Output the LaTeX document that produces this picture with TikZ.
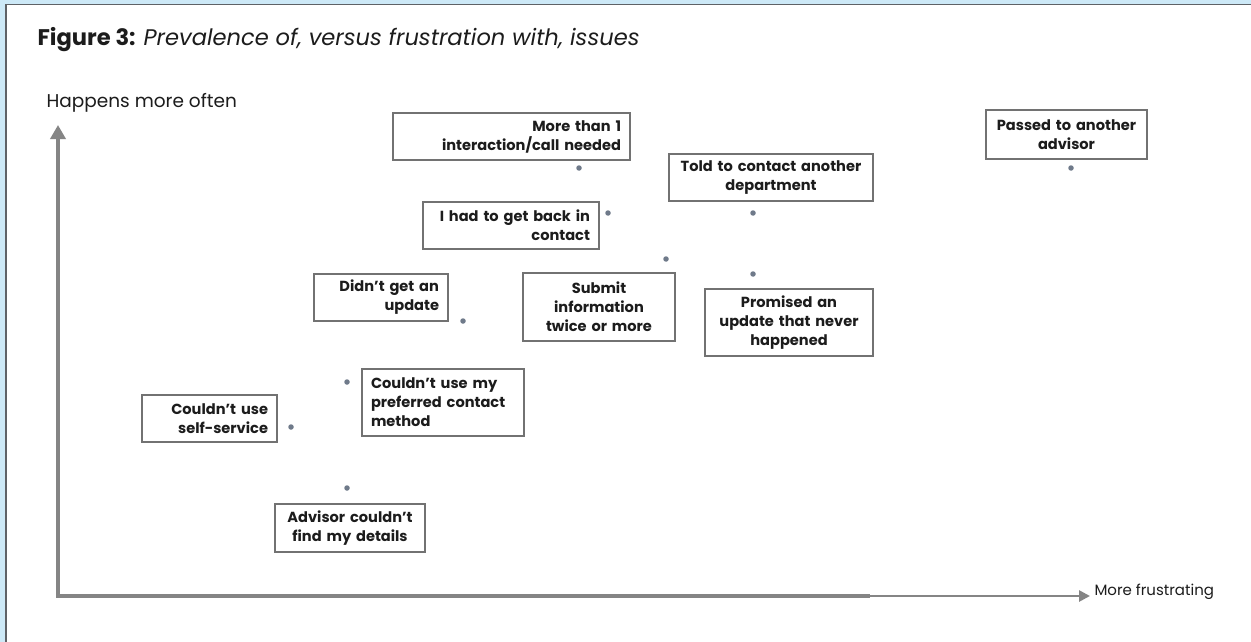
\documentclass[tikz,border=0pt]{standalone}
\usepackage{fontspec}
\setmainfont{Poppins}
\usetikzlibrary{arrows.meta}

\definecolor{frameblue}{HTML}{CDE9F7}
\definecolor{framegray}{HTML}{5F6266}
\definecolor{boxgray}{HTML}{727272}
\definecolor{axisgray}{HTML}{858585}
\definecolor{dotgray}{HTML}{6F7A8A}
\definecolor{txt}{HTML}{1C1C1C}

\begin{document}
\begin{tikzpicture}[x=1pt,y=-1pt,
        issue/.style={draw=boxgray,line width=2.8pt,fill=white,inner xsep=9pt,inner ysep=0pt,
            font=\fontsize{14.6}{19}\selectfont\bfseries,text=txt},
        hit/.style={circle,fill=dotgray,inner sep=0pt,minimum size=5.5pt},
        axis/.style={draw=axisgray,line width=4.5pt}]

        % frame
        \useasboundingbox (0,0) rectangle (1251,642);
        \fill[frameblue] (0,0) rectangle (1251,642);
        \draw[framegray,line width=1.2pt,fill=white] (6,4.5) rectangle (1262,655);

        % title
        \node[anchor=west,text=txt,font=\fontsize{22.6}{25}\selectfont] (title) at (34,40)
            {\textbf{Figure 3:} \textit{Prevalence of, versus frustration with, issues}};

        % axes
        \coordinate (O) at (58,596);
        \coordinate (ytip) at (58,125);
        \coordinate (xmid) at (870,596);
        \coordinate (xtip) at (1090,596);
        \draw[axis,{Triangle[length=14pt,width=15pt]}-] (ytip) -- (O) -- (xmid);
        \draw[axis,line width=2.6pt,-{Triangle[length=11pt,width=11pt]}] (xmid) -- (xtip);
        \node[anchor=west,text=txt,font=\fontsize{18.5}{20}\selectfont] (ylab) at (43,103) {Happens more often};
        \node[anchor=west,text=txt,font=\fontsize{15}{18}\selectfont] (xlab) at (1091,592) {More frustrating};

        % issues
        \node[issue,text width=219pt,align=right,minimum height=47pt] (more) at (511.5,136.5)
            {More than 1\\interaction/call needed};
        \node[issue,text width=186pt,align=center,minimum height=47pt] (told) at (771,177.5)
            {Told to contact another\\department};
        \node[issue,text width=158pt,align=right,minimum height=47pt] (back) at (511,225.5)
            {I had to get back in\\contact};
        \node[issue,text width=143pt,align=center,minimum height=49pt] (passed) at (1066.5,134.5)
            {Passed to another\\advisor};
        \node[issue,text width=134pt,align=center,minimum height=68pt] (submit) at (599,307)
            {Submit\\information\\twice or more};
        \node[issue,text width=150pt,align=center,minimum height=67pt] (promised) at (789,322.5)
            {Promised an\\update that never\\happened};
        \node[issue,text width=116pt,align=right,minimum height=47pt] (update) at (381,297.5)
            {Didn't get an\\update};
        \node[issue,text width=144pt,align=left,minimum height=67pt] (prefer) at (443,402.5)
            {Couldn't use my\\preferred contact\\method};
        \node[issue,text width=117pt,align=right,minimum height=47pt] (self) at (209.5,418.5)
            {Couldn't use\\self-service};
        \node[issue,text width=132pt,align=center,minimum height=48pt] (details) at (350,528)
            {Advisor couldn't\\find my details};

        % data points
        \foreach \n/\x/\y in {more/579/168, told/753/213, back/608/213, passed/1071/168,
                submit/666/259, promised/753/274, update/463/321, prefer/347/382,
                self/291/427, details/347/488}
            {
                \node[hit] (p-\n) at (\x,\y) {};
            }

    \end{tikzpicture}
\end{document}
